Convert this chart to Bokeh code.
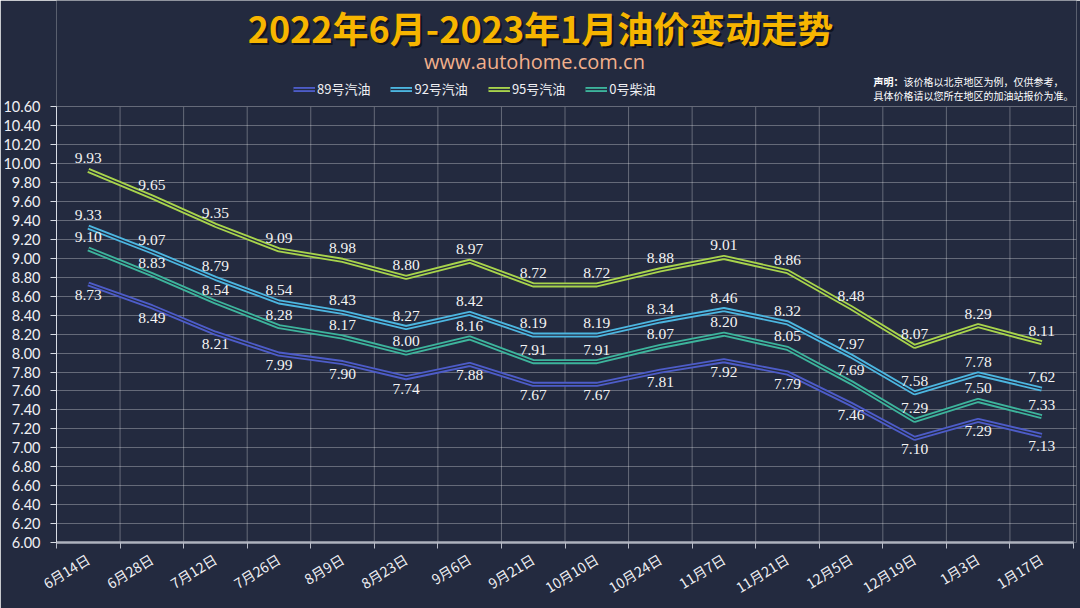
import math
from bokeh.plotting import figure
from bokeh.models import (Range1d, FixedTicker, Label, Legend, LegendItem,
                          NumeralTickFormatter)
from bokeh.core.properties import value
from bokeh.embed import file_html
from bokeh.resources import INLINE

dates = ["6月14日", "6月28日", "7月12日", "7月26日", "8月9日", "8月23日", "9月6日", "9月21日",
         "10月10日", "10月24日", "11月7日", "11月21日", "12月5日", "12月19日", "1月3日", "1月17日"]
gas89 = [8.73, 8.49, 8.21, 7.99, 7.90, 7.74, 7.88, 7.67, 7.67, 7.81, 7.92, 7.79, 7.46, 7.10, 7.29, 7.13]
gas92 = [9.33, 9.07, 8.79, 8.54, 8.43, 8.27, 8.42, 8.19, 8.19, 8.34, 8.46, 8.32, 7.97, 7.58, 7.78, 7.62]
gas95 = [9.93, 9.65, 9.35, 9.09, 8.98, 8.80, 8.97, 8.72, 8.72, 8.88, 9.01, 8.86, 8.48, 8.07, 8.29, 8.11]
diesel0 = [9.10, 8.83, 8.54, 8.28, 8.17, 8.00, 8.16, 7.91, 7.91, 8.07, 8.20, 8.05, 7.69, 7.29, 7.50, 7.33]
series_names = ["89号汽油", "92号汽油", "95号汽油", "0号柴油"]
y_min, y_max = 6.0, 10.6
y_ticks = [round(y_min + 0.2 * i, 2) for i in range(24)]

BG = "#232a3f"
colors = ["#4d5cc8", "#4cb6e0", "#a8d44c", "#3db49c"]
label_below = [True, False, False, False]

n = len(dates)
xs = [i + 0.5 for i in range(n)]

# frame spans the whole canvas height above the x axis so that titles/legend can live inside it
FRAME_LEFT, FRAME_BOTTOM, FRAME_RIGHT = 55, 545, 1076
PLOT_TOP = 107
px_per_unit_y = (FRAME_BOTTOM - PLOT_TOP) / (y_max - y_min)
y_top = y_min + FRAME_BOTTOM / px_per_unit_y
px_per_unit_x = (1073 - FRAME_LEFT) / n
x_end = (FRAME_RIGHT - FRAME_LEFT) / px_per_unit_x

p = figure(width=1080, height=608, output_backend="svg", toolbar_location=None,
           x_range=Range1d(0, x_end), y_range=Range1d(y_min, y_top),
           min_border_left=FRAME_LEFT, min_border_right=1080 - FRAME_RIGHT,
           min_border_top=0, min_border_bottom=608 - FRAME_BOTTOM,
           background_fill_color=BG, border_fill_color=BG, outline_line_color=None,
           title_location=None)

# x axis
xt = FixedTicker(ticks=xs, minor_ticks=list(range(n + 1)))
p.xaxis.ticker = xt
p.xaxis.bounds = (0, n)
p.xaxis.major_label_overrides = {x: d for x, d in zip(xs, dates)}
p.xaxis.major_tick_line_color = None
p.xaxis.minor_tick_line_color = "#b8bcc8"
p.xaxis.minor_tick_out = 6
p.xaxis.minor_tick_in = 0
p.xaxis.axis_line_color = "#aeb2be"
p.xaxis.axis_line_width = 2.5
p.xaxis.major_label_orientation = 0.55
p.xaxis.major_label_text_font = "Noto Sans CJK SC"
p.xaxis.major_label_text_font_size = "14px"
p.xaxis.major_label_text_color = "#f0f0f4"
p.xaxis.major_label_standoff = 9
p.xgrid.grid_line_color = None
p.segment(x0=list(range(n + 1)), y0=[y_min] * (n + 1), x1=list(range(n + 1)), y1=[y_max] * (n + 1),
          line_color="#ffffff", line_alpha=0.3, line_width=1)

# y axis
yt = FixedTicker(ticks=y_ticks, minor_ticks=[])
p.yaxis.ticker = yt
p.ygrid.ticker = yt
p.yaxis.bounds = (y_min, y_max)
p.yaxis.formatter = NumeralTickFormatter(format="0.00")
p.yaxis.major_tick_out = 6
p.yaxis.major_tick_in = 0
p.yaxis.major_tick_line_color = "#d8dce4"
p.yaxis.minor_tick_line_color = None
p.yaxis.axis_line_color = "#d8dce4"
p.yaxis.major_label_text_font = "Lato"
p.yaxis.major_label_text_font_size = "14.5px"
p.yaxis.major_label_text_color = "#f0f0f4"
p.yaxis.major_label_standoff = 10
p.ygrid.grid_line_color = "#ffffff"
p.ygrid.grid_line_alpha = 0.3
p.ygrid.bounds = (y_min, y_max)

items = []
for name, vals, col, below in zip(series_names, [gas89, gas92, gas95, diesel0], colors, label_below):
    r1 = p.line(xs, vals, line_color=col, line_width=5)
    r2 = p.line(xs, vals, line_color=BG, line_width=1.3)
    items.append(LegendItem(label=name, renderers=[r1, r2]))
    p.text(xs, vals, text=[f"{v:.2f}" for v in vals], text_font=value("Liberation Serif"),
           text_font_size="15.5px", text_color="#f4f4f4", text_align="center",
           text_baseline="top" if below else "bottom", y_offset=6 if below else -7)

legend = Legend(items=items, orientation="horizontal", location=(237, 444),
                background_fill_alpha=0, border_line_color=None,
                label_text_color="#f0f0f4", label_text_font="Noto Sans CJK SC",
                label_text_font_size="13px", glyph_width=22, glyph_height=10,
                label_standoff=2, spacing=20, padding=6)
p.add_layout(legend, "center")

# titles (screen coords relative to frame bottom-left)
def fy(canvas_y):
    return FRAME_BOTTOM - canvas_y

def fx(canvas_x):
    return canvas_x - FRAME_LEFT

title = "2022年6月-2023年1月油价变动走势"
p.add_layout(Label(x=fx(541), y=fy(31), x_units="screen", y_units="screen",
                   text=title, text_align="center", text_baseline="middle",
                   text_font="Noto Sans CJK SC", text_font_style="bold", text_font_size="36px",
                   text_color="#000000", text_alpha=0.55))
p.add_layout(Label(x=fx(539), y=fy(29), x_units="screen", y_units="screen",
                   text=title, text_align="center", text_baseline="middle",
                   text_font="Noto Sans CJK SC", text_font_style="bold", text_font_size="36px",
                   text_color="#f7b500"))
p.add_layout(Label(x=fx(533), y=fy(64), x_units="screen", y_units="screen",
                   text="www.autohome.com.cn", text_align="center", text_baseline="middle",
                   text_font="Open Sans", text_font_size="20px", text_color="#f2b08c"))
p.add_layout(Label(x=fx(872), y=fy(84), x_units="screen", y_units="screen",
                   text="声明：", text_align="left", text_baseline="middle",
                   text_font="Noto Sans CJK SC", text_font_style="bold", text_font_size="10px",
                   text_color="#ffffff"))
p.add_layout(Label(x=fx(902), y=fy(84), x_units="screen", y_units="screen",
                   text="该价格以北京地区为例，仅供参考，", text_align="left", text_baseline="middle",
                   text_font="Noto Sans CJK SC", text_font_size="10px", text_color="#ffffff"))
p.add_layout(Label(x=fx(872), y=fy(98), x_units="screen", y_units="screen",
                   text="具体价格请以您所在地区的加油站报价为准。", text_align="left", text_baseline="middle",
                   text_font="Noto Sans CJK SC", text_font_size="10px", text_color="#ffffff"))

open("out.html", "w").write(file_html(p, INLINE))
